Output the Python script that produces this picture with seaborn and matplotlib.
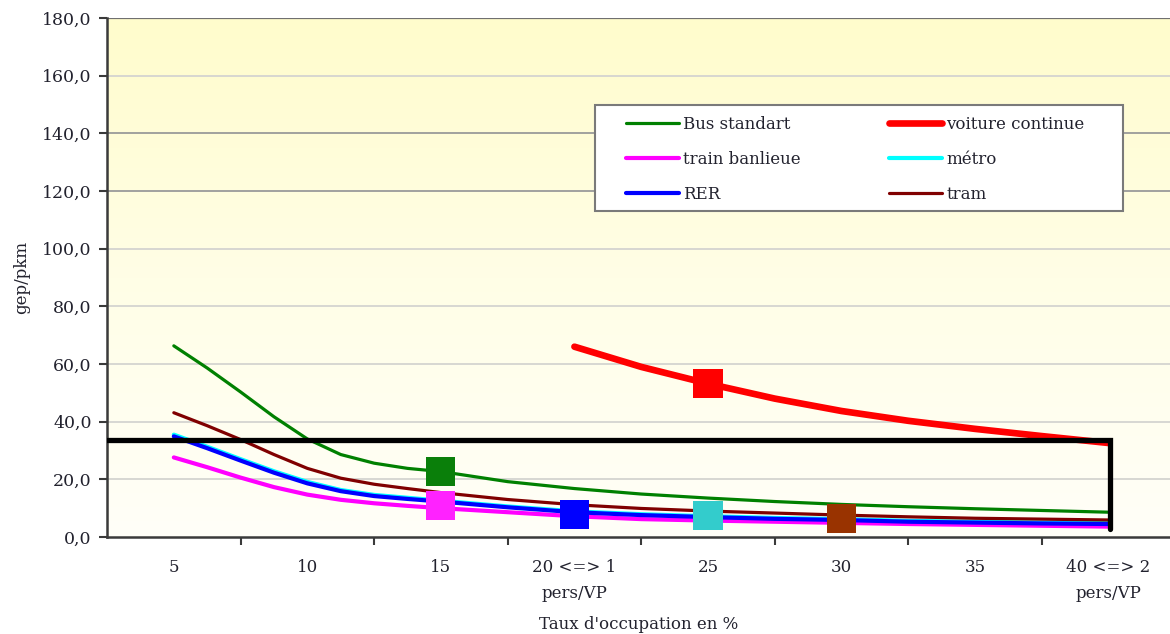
import numpy as np
import pandas as pd
import matplotlib
matplotlib.use("Agg")
import matplotlib.pyplot as plt
import seaborn as sns
from matplotlib.ticker import FixedLocator, FuncFormatter
from matplotlib.lines import Line2D
from matplotlib.patches import Rectangle

# taux d'occupation (%) aux points
taux = [5, 6.25, 7.5, 8.75, 10, 11.25, 12.5, 13.75, 15,
        17.5, 20, 22.5, 25, 27.5, 30, 32.5, 35, 37.5, 40]
bus_standart = [66.3, 58.6, 50.3, 41.7, 34.0, 28.6, 25.6, 23.8, 22.7,
                19.2, 16.8, 14.9, 13.5, 12.3, 11.3, 10.5, 9.8, 9.2, 8.6]
tram = [43.1, 38.6, 33.8, 28.6, 23.8, 20.4, 18.3, 16.8, 15.4,
        13.0, 11.2, 9.9, 9.0, 8.3, 7.6, 7.0, 6.5, 6.2, 5.9]
rer = [34.9, 30.8, 26.5, 22.3, 18.6, 15.9, 14.2, 13.2, 12.3,
       10.3, 8.6, 7.6, 6.9, 6.3, 5.9, 5.3, 5.0, 4.7, 4.5]
metro = [35.5, 31.3, 27.0, 22.8, 19.1, 16.3, 14.6, 13.6, 12.6,
         10.6, 8.9, 7.9, 7.2, 6.6, 6.2, 5.6, 5.3, 5.0, 4.8]
train_banlieue = [27.6, 24.2, 20.6, 17.3, 14.7, 12.9, 11.7, 10.8, 10.0,
                  8.6, 7.2, 6.2, 5.7, 5.3, 4.9, 4.5, 4.2, 3.9, 3.6]
taux_voiture = [20, 22.5, 25, 27.5, 30, 32.5, 35, 37.5, 40]
voiture_continue = [66.0, 59.0, 53.2, 48.0, 43.7, 40.3, 37.5, 35.0, 32.6]

# points mis en évidence
pts_x = [15, 15, 20, 25, 25, 30]
pts_y = [22.7, 11.0, 7.9, 53.3, 7.6, 6.5]
pts_col = ["#0a7f0a", "#ff22ff", "#0000ff", "#ff0000", "#33cccc", "#993300"]

# cadre noir (seuil)
seuil = 33.6
cadre_x = [2.5, 40.05, 40.05]
cadre_y = [seuil, seuil, 2.7]

xticks = [5, 10, 15, 20, 25, 30, 35, 40]
xlabels = ["5", "10", "15", "20 <=> 1\npers/VP", "25", "30", "35", "40 <=> 2\npers/VP"]

TXT = "#22222e"


def main():
    sns.set_theme(style="white")
    plt.rcParams["font.family"] = ["DejaVu Serif"]
    plt.rcParams["font.size"] = 12

    fig = plt.figure(figsize=(11.7, 6.34), dpi=100)
    ax = fig.add_axes([0.0915, 0.153, 0.9085, 0.8186])
    ax.set_xlim(2.5, 42.3)
    ax.set_ylim(0, 180)

    # fond dégradé jaune
    grad = np.linspace(0, 1, 256).reshape(-1, 1)
    cmap = matplotlib.colors.LinearSegmentedColormap.from_list(
        "fond", ["#fffff8", "#fffee6", "#fffccc"])
    ax.imshow(grad, extent=[2.5, 42.3, 0, 180], origin="lower", aspect="auto",
              cmap=cmap, zorder=0)

    # grille
    for v in range(20, 180, 20):
        col = "#9a9a9a" if v in (120, 140) else "#d4d4d0"
        ax.axhline(v, color=col, lw=1.3, zorder=1)
    ax.axhline(180, color="#707070", lw=1.6, zorder=1)

    series = [
        (bus_standart, taux, "Bus standart", "#008000", 2.3),
        (voiture_continue, taux_voiture, "voiture continue", "#ff0000", 4.8),
        (train_banlieue, taux, "train banlieue", "#ff00ff", 3.0),
        (metro, taux, "métro", "#00ffff", 3.0),
        (rer, taux, "RER", "#0000ff", 3.0),
        (tram, taux, "tram", "#800000", 2.3),
    ]
    handles = {}
    for vals, xs, name, col, lw in series:
        df = pd.DataFrame({"x": xs, "y": vals})
        sns.lineplot(data=df, x="x", y="y", ax=ax, color=col, linewidth=lw,
                     sort=False, estimator=None, zorder=3,
                     solid_joinstyle="round", solid_capstyle="round")
        handles[name] = Line2D([], [], color=col, lw=lw, solid_capstyle="round")

    ax.plot(cadre_x, cadre_y, color="black", lw=3.8, zorder=4, solid_joinstyle="miter")

    pts = pd.DataFrame({"x": pts_x, "y": pts_y})
    sns.scatterplot(data=pts, x="x", y="y", ax=ax, marker="s", s=440,
                    c=pts_col, edgecolor="none", zorder=5, legend=False)

    # cadre de la légende
    ax.add_patch(Rectangle((0.4588, 0.628), 0.4972, 0.204, transform=ax.transAxes,
                           facecolor="white", edgecolor="#7a7a7a", lw=1.5, zorder=6))
    order = ["Bus standart", "train banlieue", "RER", "voiture continue", "métro", "tram"]
    leg = ax.legend([handles[k] for k in order], order, ncol=2,
                    loc="upper left", bbox_to_anchor=(0.4878, 0.811),
                    frameon=False, fontsize=12, handlelength=3.2, handletextpad=0.25,
                    labelspacing=1.08, borderpad=0, columnspacing=5.3, borderaxespad=0)
    for t in leg.get_texts():
        t.set_color(TXT)
    leg.set_zorder(7)

    # axes
    for side in ["top", "right"]:
        ax.spines[side].set_visible(False)
    for side in ["left", "bottom"]:
        ax.spines[side].set_color("#3a3a3a")
        ax.spines[side].set_linewidth(1.8)

    ax.yaxis.set_major_locator(FixedLocator(np.arange(0, 181, 20)))
    ax.yaxis.set_major_formatter(FuncFormatter(lambda v, p: f"{v:.1f}".replace(".", ",")))
    ax.tick_params(axis="y", which="major", left=True, length=6, width=1.5,
                   color="#3a3a3a", pad=5, labelsize=12.5, labelcolor=TXT)

    ax.xaxis.set_major_locator(FixedLocator(xticks))
    ax.set_xticklabels(xlabels, linespacing=1.7, color=TXT)
    ax.xaxis.set_minor_locator(FixedLocator(np.arange(7.5, 42.0, 5)))
    ax.tick_params(axis="x", which="major", bottom=True, length=0, pad=16, labelsize=12)
    ax.tick_params(axis="x", which="minor", bottom=True, length=6, width=1.5, color="#3a3a3a")

    ax.set_xlabel("Taux d'occupation en %", fontsize=12, color=TXT, labelpad=10)
    ax.set_ylabel("gep/pkm", fontsize=12, color=TXT, labelpad=9)

    fig.savefig("out.png", dpi=100)
    plt.close(fig)


if __name__ == "__main__":
    main()
